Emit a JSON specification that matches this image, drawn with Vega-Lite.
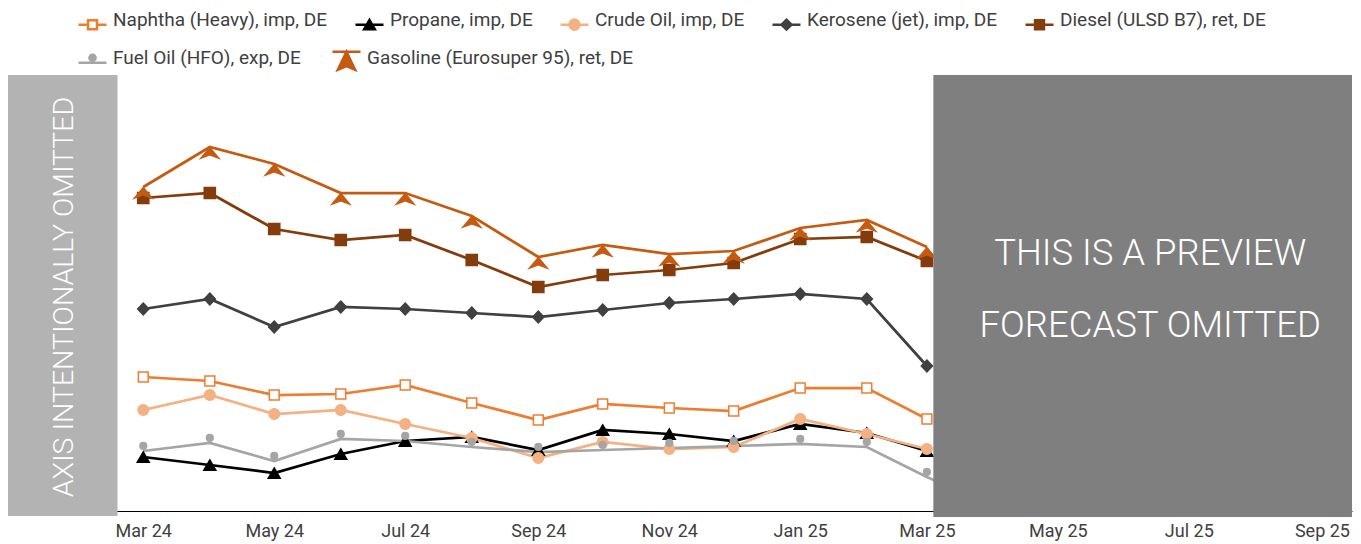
{
  "$schema": "https://vega.github.io/schema/vega-lite/v6.json",
  "width": 1344,
  "height": 436,
  "autosize": {"type": "none"},
  "padding": {"left": 8, "top": 75, "right": 9, "bottom": 33},
  "background": "white",
  "config": {
    "view": {"stroke": null},
    "font": "Roboto",
    "axis": {"labelFont": "Roboto", "labelFontSize": 18, "labelColor": "#404040"},
    "legend": {
      "orient": "none",
      "direction": "horizontal",
      "columnPadding": 22,
      "rowPadding": 12,
      "symbolSize": 784,
      "symbolStrokeWidth": 2.5,
      "symbolOpacity": 1,
      "labelFont": "Roboto",
      "labelFontSize": 19,
      "labelColor": "#404040",
      "labelLimit": 400,
      "labelOffset": 5,
      "padding": 0
    }
  },
  "datasets": {
    "prices": [
      {"date": "2024-03-01", "series": "Naphtha (Heavy), imp, DE", "value": 134},
      {"date": "2024-04-01", "series": "Naphtha (Heavy), imp, DE", "value": 130},
      {"date": "2024-05-01", "series": "Naphtha (Heavy), imp, DE", "value": 116},
      {"date": "2024-06-01", "series": "Naphtha (Heavy), imp, DE", "value": 117},
      {"date": "2024-07-01", "series": "Naphtha (Heavy), imp, DE", "value": 126},
      {"date": "2024-08-01", "series": "Naphtha (Heavy), imp, DE", "value": 108},
      {"date": "2024-09-01", "series": "Naphtha (Heavy), imp, DE", "value": 91},
      {"date": "2024-10-01", "series": "Naphtha (Heavy), imp, DE", "value": 107},
      {"date": "2024-11-01", "series": "Naphtha (Heavy), imp, DE", "value": 103},
      {"date": "2024-12-01", "series": "Naphtha (Heavy), imp, DE", "value": 100},
      {"date": "2025-01-01", "series": "Naphtha (Heavy), imp, DE", "value": 123},
      {"date": "2025-02-01", "series": "Naphtha (Heavy), imp, DE", "value": 123},
      {"date": "2025-03-01", "series": "Naphtha (Heavy), imp, DE", "value": 92},
      {"date": "2024-03-01", "series": "Propane, imp, DE", "value": 54},
      {"date": "2024-04-01", "series": "Propane, imp, DE", "value": 46},
      {"date": "2024-05-01", "series": "Propane, imp, DE", "value": 38},
      {"date": "2024-06-01", "series": "Propane, imp, DE", "value": 57},
      {"date": "2024-07-01", "series": "Propane, imp, DE", "value": 70},
      {"date": "2024-08-01", "series": "Propane, imp, DE", "value": 74},
      {"date": "2024-09-01", "series": "Propane, imp, DE", "value": 61},
      {"date": "2024-10-01", "series": "Propane, imp, DE", "value": 81},
      {"date": "2024-11-01", "series": "Propane, imp, DE", "value": 77},
      {"date": "2024-12-01", "series": "Propane, imp, DE", "value": 70},
      {"date": "2025-01-01", "series": "Propane, imp, DE", "value": 87},
      {"date": "2025-02-01", "series": "Propane, imp, DE", "value": 78},
      {"date": "2025-03-01", "series": "Propane, imp, DE", "value": 60},
      {"date": "2024-03-01", "series": "Crude Oil, imp, DE", "value": 101},
      {"date": "2024-04-01", "series": "Crude Oil, imp, DE", "value": 116},
      {"date": "2024-05-01", "series": "Crude Oil, imp, DE", "value": 97},
      {"date": "2024-06-01", "series": "Crude Oil, imp, DE", "value": 101},
      {"date": "2024-07-01", "series": "Crude Oil, imp, DE", "value": 87},
      {"date": "2024-08-01", "series": "Crude Oil, imp, DE", "value": 73},
      {"date": "2024-09-01", "series": "Crude Oil, imp, DE", "value": 53},
      {"date": "2024-10-01", "series": "Crude Oil, imp, DE", "value": 69},
      {"date": "2024-11-01", "series": "Crude Oil, imp, DE", "value": 62},
      {"date": "2024-12-01", "series": "Crude Oil, imp, DE", "value": 64},
      {"date": "2025-01-01", "series": "Crude Oil, imp, DE", "value": 92},
      {"date": "2025-02-01", "series": "Crude Oil, imp, DE", "value": 77},
      {"date": "2025-03-01", "series": "Crude Oil, imp, DE", "value": 62},
      {"date": "2024-03-01", "series": "Kerosene (jet), imp, DE", "value": 202},
      {"date": "2024-04-01", "series": "Kerosene (jet), imp, DE", "value": 212},
      {"date": "2024-05-01", "series": "Kerosene (jet), imp, DE", "value": 184},
      {"date": "2024-06-01", "series": "Kerosene (jet), imp, DE", "value": 204},
      {"date": "2024-07-01", "series": "Kerosene (jet), imp, DE", "value": 202},
      {"date": "2024-08-01", "series": "Kerosene (jet), imp, DE", "value": 198},
      {"date": "2024-09-01", "series": "Kerosene (jet), imp, DE", "value": 194},
      {"date": "2024-10-01", "series": "Kerosene (jet), imp, DE", "value": 201},
      {"date": "2024-11-01", "series": "Kerosene (jet), imp, DE", "value": 208},
      {"date": "2024-12-01", "series": "Kerosene (jet), imp, DE", "value": 212},
      {"date": "2025-01-01", "series": "Kerosene (jet), imp, DE", "value": 217},
      {"date": "2025-02-01", "series": "Kerosene (jet), imp, DE", "value": 212},
      {"date": "2025-03-01", "series": "Kerosene (jet), imp, DE", "value": 145},
      {"date": "2024-03-01", "series": "Diesel (ULSD B7), ret, DE", "value": 313},
      {"date": "2024-04-01", "series": "Diesel (ULSD B7), ret, DE", "value": 318},
      {"date": "2024-05-01", "series": "Diesel (ULSD B7), ret, DE", "value": 282},
      {"date": "2024-06-01", "series": "Diesel (ULSD B7), ret, DE", "value": 271},
      {"date": "2024-07-01", "series": "Diesel (ULSD B7), ret, DE", "value": 276},
      {"date": "2024-08-01", "series": "Diesel (ULSD B7), ret, DE", "value": 251},
      {"date": "2024-09-01", "series": "Diesel (ULSD B7), ret, DE", "value": 224},
      {"date": "2024-10-01", "series": "Diesel (ULSD B7), ret, DE", "value": 236},
      {"date": "2024-11-01", "series": "Diesel (ULSD B7), ret, DE", "value": 241},
      {"date": "2024-12-01", "series": "Diesel (ULSD B7), ret, DE", "value": 248},
      {"date": "2025-01-01", "series": "Diesel (ULSD B7), ret, DE", "value": 272},
      {"date": "2025-02-01", "series": "Diesel (ULSD B7), ret, DE", "value": 274},
      {"date": "2025-03-01", "series": "Diesel (ULSD B7), ret, DE", "value": 250},
      {"date": "2024-03-01", "series": "Fuel Oil (HFO), exp, DE", "value": 60},
      {"date": "2024-04-01", "series": "Fuel Oil (HFO), exp, DE", "value": 68},
      {"date": "2024-05-01", "series": "Fuel Oil (HFO), exp, DE", "value": 50},
      {"date": "2024-06-01", "series": "Fuel Oil (HFO), exp, DE", "value": 72},
      {"date": "2024-07-01", "series": "Fuel Oil (HFO), exp, DE", "value": 70},
      {"date": "2024-08-01", "series": "Fuel Oil (HFO), exp, DE", "value": 64},
      {"date": "2024-09-01", "series": "Fuel Oil (HFO), exp, DE", "value": 59},
      {"date": "2024-10-01", "series": "Fuel Oil (HFO), exp, DE", "value": 61},
      {"date": "2024-11-01", "series": "Fuel Oil (HFO), exp, DE", "value": 63},
      {"date": "2024-12-01", "series": "Fuel Oil (HFO), exp, DE", "value": 65},
      {"date": "2025-01-01", "series": "Fuel Oil (HFO), exp, DE", "value": 67},
      {"date": "2025-02-01", "series": "Fuel Oil (HFO), exp, DE", "value": 64},
      {"date": "2025-03-01", "series": "Fuel Oil (HFO), exp, DE", "value": 34},
      {"date": "2025-04-01", "series": "Fuel Oil (HFO), exp, DE", "value": 4},
      {"date": "2024-03-01", "series": "Gasoline (Eurosuper 95), ret, DE", "value": 324},
      {"date": "2024-04-01", "series": "Gasoline (Eurosuper 95), ret, DE", "value": 364},
      {"date": "2024-05-01", "series": "Gasoline (Eurosuper 95), ret, DE", "value": 347},
      {"date": "2024-06-01", "series": "Gasoline (Eurosuper 95), ret, DE", "value": 318},
      {"date": "2024-07-01", "series": "Gasoline (Eurosuper 95), ret, DE", "value": 318},
      {"date": "2024-08-01", "series": "Gasoline (Eurosuper 95), ret, DE", "value": 295},
      {"date": "2024-09-01", "series": "Gasoline (Eurosuper 95), ret, DE", "value": 254},
      {"date": "2024-10-01", "series": "Gasoline (Eurosuper 95), ret, DE", "value": 266},
      {"date": "2024-11-01", "series": "Gasoline (Eurosuper 95), ret, DE", "value": 257},
      {"date": "2024-12-01", "series": "Gasoline (Eurosuper 95), ret, DE", "value": 260},
      {"date": "2025-01-01", "series": "Gasoline (Eurosuper 95), ret, DE", "value": 283},
      {"date": "2025-02-01", "series": "Gasoline (Eurosuper 95), ret, DE", "value": 291},
      {"date": "2025-03-01", "series": "Gasoline (Eurosuper 95), ret, DE", "value": 264}
    ]
  },
  "layer": [
    {
      "data": {"name": "prices"},
      "mark": {"type": "line", "strokeWidth": 2.75},
      "encoding": {
        "x": {"field": "date", "type": "temporal", "scale": {"type": "utc", "domain": [{"year": 2023, "month": 12, "date": 29, "utc": true}, {"year": 2025, "month": 9, "date": 15, "utc": true}], "nice": false},
          "axis": {"title": null, "values": [{"year": 2024, "month": 3, "date": 1, "utc": true}, {"year": 2024, "month": 5, "date": 1, "utc": true}, {"year": 2024, "month": 7, "date": 1, "utc": true}, {"year": 2024, "month": 9, "date": 1, "utc": true}, {"year": 2024, "month": 11, "date": 1, "utc": true}, {"year": 2025, "month": 1, "date": 1, "utc": true}, {"year": 2025, "month": 3, "date": 1, "utc": true}, {"year": 2025, "month": 5, "date": 1, "utc": true}, {"year": 2025, "month": 7, "date": 1, "utc": true}, {"year": 2025, "month": 9, "date": 1, "utc": true}],
            "labelExpr": "utcFormat(datum.value, '%b %y')", "ticks": false, "grid": false, "domainColor": "#000000", "domainWidth": 1, "labelPadding": 11, "labelFlush": false, "labelOverlap": false}},
        "y": {"field": "value", "type": "quantitative", "scale": {"domain": [0, 436], "nice": false, "zero": false}, "axis": null},
        "color": {"field": "series", "type": "nominal", "legend": null,
          "scale": {"domain": ["Naphtha (Heavy), imp, DE", "Propane, imp, DE", "Crude Oil, imp, DE", "Kerosene (jet), imp, DE", "Diesel (ULSD B7), ret, DE", "Fuel Oil (HFO), exp, DE", "Gasoline (Eurosuper 95), ret, DE"],
            "range": ["#ED7D31", "#000000", "#F4B183", "#404040", "#843C0C", "#A5A5A5", "#C55A11"]}}
      }
    },
    {
      "data": {"name": "prices"},
      "mark": {"type": "point", "filled": true, "opacity": 1, "size": 144, "strokeWidth": 1.5},
      "encoding": {
        "x": {"field": "date", "type": "temporal"},
        "y": {"field": "value", "type": "quantitative"},
        "shape": {"field": "series", "type": "nominal", "legend": null,
          "scale": {"domain": ["Naphtha (Heavy), imp, DE", "Propane, imp, DE", "Crude Oil, imp, DE", "Kerosene (jet), imp, DE", "Diesel (ULSD B7), ret, DE", "Fuel Oil (HFO), exp, DE", "Gasoline (Eurosuper 95), ret, DE"],
            "range": [
              "M-0.82,-0.82H0.82V0.82H-0.82Z",
              "M0,-0.85L1.0,0.88H-1.0Z",
              "M0.88,0A0.88,0.88,0,1,1,-0.88,0A0.88,0.88,0,1,1,0.88,0Z",
              "M0,-0.98L0.93,0L0,0.98L-0.93,0Z",
              "M-0.93,-0.93H0.93V0.93H-0.93Z",
              "M0.56,-0.85A0.56,0.56,0,1,1,-0.56,-0.85A0.56,0.56,0,1,1,0.56,-0.85Z",
              "M0,0.1L1.46,1.85L0,1.3L-1.46,1.85Z"
            ]}},
        "fill": {"field": "series", "type": "nominal", "legend": null,
          "scale": {"domain": ["Naphtha (Heavy), imp, DE", "Propane, imp, DE", "Crude Oil, imp, DE", "Kerosene (jet), imp, DE", "Diesel (ULSD B7), ret, DE", "Fuel Oil (HFO), exp, DE", "Gasoline (Eurosuper 95), ret, DE"],
            "range": ["#FFFFFF", "#000000", "#F4B183", "#404040", "#843C0C", "#A5A5A5", "#C55A11"]}},
        "stroke": {"field": "series", "type": "nominal", "legend": null,
          "scale": {"domain": ["Naphtha (Heavy), imp, DE", "Propane, imp, DE", "Crude Oil, imp, DE", "Kerosene (jet), imp, DE", "Diesel (ULSD B7), ret, DE", "Fuel Oil (HFO), exp, DE", "Gasoline (Eurosuper 95), ret, DE"],
            "range": ["#ED7D31", "#000000", "#F4B183", "#404040", "#843C0C", "#A5A5A5", "#C55A11"]}}
      }
    },
    {
      "data": {"values": [{"date": "2023-12-29", "date2": "2024-02-18", "value": -5, "value2": 436}]},
      "mark": {"type": "rect", "color": "#B3B3B3", "clip": false},
      "encoding": {
        "x": {"field": "date", "type": "temporal"},
        "x2": {"field": "date2"},
        "y": {"field": "value", "type": "quantitative"},
        "y2": {"field": "value2"}
      }
    },
    {
      "data": {"values": [{"date": "2025-03-04", "date2": "2025-09-15", "value": -6, "value2": 436}]},
      "mark": {"type": "rect", "color": "#7F7F7F", "clip": false},
      "encoding": {
        "x": {"field": "date", "type": "temporal"},
        "x2": {"field": "date2"},
        "y": {"field": "value", "type": "quantitative"},
        "y2": {"field": "value2"}
      }
    },
    {
      "data": {"values": [{"date": "2024-01-24", "value": 214, "label": "AXIS INTENTIONALLY OMITTED"}]},
      "mark": {"type": "text", "color": "#FFFFFF", "font": "Roboto", "fontWeight": 300, "fontSize": 28.5, "angle": 270, "align": "center", "baseline": "middle"},
      "encoding": {
        "x": {"field": "date", "type": "temporal"},
        "y": {"field": "value", "type": "quantitative"},
        "text": {"field": "label"}
      }
    },
    {
      "data": {"values": [{"date": "2025-06-13", "value": 257, "label": "THIS IS A PREVIEW"}, {"date": "2025-06-13", "value": 185, "label": "FORECAST OMITTED"}]},
      "mark": {"type": "text", "color": "#FFFFFF", "font": "Roboto", "fontWeight": 300, "fontSize": 36.5, "align": "center", "baseline": "middle"},
      "encoding": {
        "x": {"field": "date", "type": "temporal"},
        "y": {"field": "value", "type": "quantitative"},
        "text": {"field": "label"}
      }
    },
    {
      "data": {"name": "prices"},
      "transform": [{"filter": "false"}],
      "mark": {"type": "point", "filled": true, "opacity": 1, "strokeWidth": 2.5},
      "encoding": {
        "shape": {"field": "series", "type": "nominal", "title": null,
          "legend": {"title": null, "orient": "none", "legendX": 69, "legendY": -71, "direction": "horizontal"},
          "scale": {"domain": ["Naphtha (Heavy), imp, DE", "Propane, imp, DE", "Crude Oil, imp, DE", "Kerosene (jet), imp, DE", "Diesel (ULSD B7), ret, DE"],
            "range": [
              "M0,-1M0,1M-1,0.35H-0.32M0.32,0.35H1M-0.32,0.03H0.32V0.67H-0.32Z",
              "M0,-1M0,1M-1,0.35H1M0,0.02L0.38,0.68H-0.38Z",
              "M0,-1M0,1M-1,0.35H1M0.36,0.35A0.36,0.36,0,1,1,-0.36,0.35A0.36,0.36,0,1,1,0.36,0.35Z",
              "M0,-1M0,1M-1,0.35H1M0,0L0.36,0.35L0,0.7L-0.36,0.35Z",
              "M0,-1M0,1M-1,0.35H1M-0.32,0.03H0.32V0.67H-0.32Z"
            ]}},
        "fill": {"field": "series", "type": "nominal", "title": null,
          "legend": {"title": null, "orient": "none", "legendX": 69, "legendY": -71, "direction": "horizontal"},
          "scale": {"domain": ["Naphtha (Heavy), imp, DE", "Propane, imp, DE", "Crude Oil, imp, DE", "Kerosene (jet), imp, DE", "Diesel (ULSD B7), ret, DE"],
            "range": ["#FFFFFF", "#000000", "#F4B183", "#404040", "#843C0C"]}},
        "stroke": {"field": "series", "type": "nominal", "title": null,
          "legend": {"title": null, "orient": "none", "legendX": 69, "legendY": -71, "direction": "horizontal"},
          "scale": {"domain": ["Naphtha (Heavy), imp, DE", "Propane, imp, DE", "Crude Oil, imp, DE", "Kerosene (jet), imp, DE", "Diesel (ULSD B7), ret, DE"],
            "range": ["#ED7D31", "#000000", "#F4B183", "#404040", "#843C0C"]}}
      }
    },
    {
      "data": {"name": "prices"},
      "transform": [{"filter": "false"}],
      "mark": {"type": "point", "filled": true, "opacity": 1, "strokeWidth": 2.5},
      "encoding": {
        "shape": {"field": "series", "type": "nominal", "title": null,
          "legend": {"title": null, "orient": "none", "legendX": 69, "legendY": -33, "direction": "horizontal", "columnPadding": 26},
          "scale": {"domain": ["Fuel Oil (HFO), exp, DE", "Gasoline (Eurosuper 95), ret, DE"],
            "range": [
              "M0,-1M0,1M-1,0.35H1M0.22,0A0.22,0.22,0,1,1,-0.22,0A0.22,0.22,0,1,1,0.22,0Z",
              "M0,-1M0,1M-1,-0.43H1M0,-0.43L0.62,0.86L0,0.6L-0.62,0.86Z"
            ]}},
        "fill": {"field": "series", "type": "nominal", "title": null,
          "legend": {"title": null, "orient": "none", "legendX": 69, "legendY": -33, "direction": "horizontal", "columnPadding": 26},
          "scale": {"domain": ["Fuel Oil (HFO), exp, DE", "Gasoline (Eurosuper 95), ret, DE"],
            "range": ["#A5A5A5", "#C55A11"]}},
        "stroke": {"field": "series", "type": "nominal", "title": null,
          "legend": {"title": null, "orient": "none", "legendX": 69, "legendY": -33, "direction": "horizontal", "columnPadding": 26},
          "scale": {"domain": ["Fuel Oil (HFO), exp, DE", "Gasoline (Eurosuper 95), ret, DE"],
            "range": ["#A5A5A5", "#C55A11"]}}
      }
    }
  ],
  "resolve": {"scale": {"shape": "independent", "fill": "independent", "stroke": "independent", "color": "independent"}}
}
